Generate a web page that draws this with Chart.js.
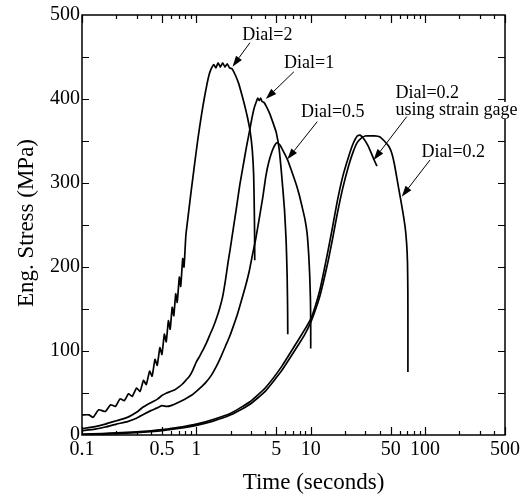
<!DOCTYPE html>
<html><head><meta charset="utf-8">
<script src="https://cdn.jsdelivr.net/npm/chart.js@4"></script>
<style>html,body{margin:0;padding:0;background:#fff}</style>
</head><body>
<canvas id="c" width="523" height="497"></canvas>
<script>
// ---------- tick labels ----------
const xTickLabels = [0.1, 0.5, 1, 5, 10, 50, 100, 500];
const yTickLabels = [0, 100, 200, 300, 400, 500];

// ---------- series (time in s, engineering stress in MPa) ----------
const dial2Time = [0.1,0.115,0.125,0.14,0.16,0.178,0.196,0.215,0.235,0.255,0.275,0.3,0.322,0.345,0.365,0.39,0.41,0.435,0.455,0.48,0.5,0.525,0.545,0.57,0.59,0.615,0.635,0.66,0.68,0.71,0.73,0.76,0.78,0.81,0.85,0.9,0.96,1.03,1.1,1.17,1.24,1.3,1.36,1.42,1.48,1.55,1.62,1.7,1.78,1.86,1.95,2.05,2.2,2.35,2.5,2.65,2.8,2.95,3.08,3.17,3.21,3.23,3.24];
const dial2Stress = [24,24,21,30,28,36,34,43,41,49,46,56,52,65,60,76,70,90,83,104,96,120,111,136,126,152,142,168,158,188,177,210,200,238,262,290,320,352,378,400,418,430,437,441,437,443,438,443,438,442,437,436,428,418,405,392,378,362,340,310,270,240,208];

const dial1Time = [0.1,0.13,0.16,0.2,0.25,0.3,0.34,0.38,0.42,0.46,0.5,0.55,0.6,0.65,0.7,0.76,0.82,0.87,0.93,1.0,1.07,1.15,1.22,1.3,1.4,1.5,1.6,1.7,1.8,1.9,1.97,2.1,2.25,2.4,2.6,2.75,2.9,3.05,3.2,3.35,3.45,3.55,3.65,3.75,3.9,4.1,4.4,4.7,5.0,5.3,5.6,5.9,6.1,6.22,6.28,6.3];
const dial1Stress = [7.5,10,13,17,21,27,33,37,40,43,47,50,52,54,57,61,66,70,77,87,94,102,109,118,128,139,151,165,185,207,220,245,272,298,325,344,360,376,389,397,401,398,401,397,396,391,382,371,360,340,306,268,230,190,150,120];

const dial05Time = [0.1,0.13,0.16,0.2,0.25,0.3,0.35,0.4,0.45,0.5,0.55,0.6,0.7,0.8,0.9,1.0,1.1,1.2,1.35,1.5,1.65,1.8,1.95,2.1,2.3,2.5,2.7,2.9,3.1,3.3,3.55,3.8,4.05,4.3,4.6,4.85,5.1,5.4,5.8,6.3,6.9,7.4,7.9,8.4,8.9,9.3,9.6,9.8,9.95,10.0,10.0];
const dial05Stress = [5,7,9.5,13,16,20,25,29,32,35,34,35,39,43,47,52,57,62,71,82,94,106,117,129,145,162,178,195,215,233,258,282,308,325,338,345,348,345,337,327,312,300,287,272,257,240,215,190,160,130,103];

const dial02GageTime = [0.1,0.15,0.2,0.3,0.4,0.5,0.7,1.0,1.4,2.0,2.9,4.0,5.6,7.86,8.9,10,11,12,13,14.2,15.5,17,19,21.4,23.5,25.5,27,29,31.5,34,36.5,38];
const dial02GageStress = [1,1.8,2.5,3.8,5,6.3,9,13,18.5,26,39,56,82,114,126,138,154,172,194,220,247,277,307,331,347,356,357,353,345,335,325,320];

const dial02Time = [0.1,0.15,0.2,0.3,0.4,0.5,0.7,1.0,1.4,2.0,2.9,4.0,5.6,7.86,8.9,10,11,12,13,14.2,15.5,17,19,21.4,23.5,25.5,28,30,33,36,40,44,48,51,54,57,60.5,64,67,69,70.2,70.7,70.8,70.8];
const dial02Stress = [0.3,1,1.6,2.8,4,5.2,7.8,11.5,16.5,24,36,52,77,108,120,134,149,165,184,207,233,262,293,320,337,348,354,356,356,356,355,350,344,336,322,304,284,265,247,228,205,170,130,75];

// ---------- annotations (positions in data units: time, stress) ----------
const noteText = [["Dial=2"],["Dial=1"],["Dial=0.5"],["Dial=0.2","using strain gage"],["Dial=0.2"]];
const noteAnchor = [[2.52,470.8],[5.85,437],[8.22,378],[55.1,401.2],[92.9,331.3]];
const arrowTail = [[2.94,467],[7.14,432.5],[11.4,373],[69.2,379],[110.5,327.4]];
const arrowTip = [[2.07,438.5],[4.05,400],[6.25,328.2],[35.5,327.4],[62.5,283.7]];

const FONT = "'Liberation Serif','Times New Roman',Times,serif";
const pts = (t, s) => t.map((v, i) => ({x: v, y: s[i]}));
const series = [
  [dial2Time, dial2Stress], [dial1Time, dial1Stress], [dial05Time, dial05Stress],
  [dial02GageTime, dial02GageStress], [dial02Time, dial02Stress]
];

const framePlugin = {
  id: 'frame',
  beforeDraw(chart) {
    const ctx = chart.ctx;
    ctx.save(); ctx.fillStyle = '#fff'; ctx.fillRect(0, 0, chart.width, chart.height); ctx.restore();
  },
  afterDatasetsDraw(chart) {
    const {ctx, chartArea: a, scales: {x, y}} = chart;
    ctx.save();
    ctx.strokeStyle = '#000';
    ctx.lineWidth = 1.5;
    ctx.strokeRect(a.left, a.top, a.right - a.left, a.bottom - a.top);
    ctx.lineWidth = 1.2;
    ctx.beginPath();
    for (let d = -1; d <= 2; d++) {
      for (let m = 1; m <= 9; m++) {
        const v = m * Math.pow(10, d);
        if (v < 0.0999 || v > 500.1) continue;
        const px = Math.round(x.getPixelForValue(v)) + 0.5;
        const len = (m === 1 || m === 5) ? 8 : 4;
        ctx.moveTo(px, a.bottom); ctx.lineTo(px, a.bottom - len);
        ctx.moveTo(px, a.top); ctx.lineTo(px, a.top + len);
      }
    }
    for (let v = 50; v < 500; v += 50) {
      const py = Math.round(y.getPixelForValue(v)) + 0.5;
      ctx.moveTo(a.left, py); ctx.lineTo(a.left + 7, py);
      ctx.moveTo(a.right, py); ctx.lineTo(a.right - 7, py);
    }
    ctx.stroke();

    // annotations
    ctx.font = '18px ' + FONT;
    ctx.textAlign = 'left';
    ctx.textBaseline = 'alphabetic';
    noteText.forEach((lines, i) => {
      const tx = x.getPixelForValue(noteAnchor[i][0]);
      const ty = y.getPixelForValue(noteAnchor[i][1]);
      lines.forEach((s, j) => {
        const w = ctx.measureText(s).width;
        ctx.fillStyle = '#fff';
        ctx.fillRect(tx - 1, ty + j * 17 - 13, w + 2, 17);
      });
      ctx.fillStyle = '#000';
      lines.forEach((s, j) => ctx.fillText(s, tx, ty + j * 17));
      const x0 = x.getPixelForValue(arrowTail[i][0]), y0 = y.getPixelForValue(arrowTail[i][1]);
      const x1 = x.getPixelForValue(arrowTip[i][0]), y1 = y.getPixelForValue(arrowTip[i][1]);
      const ang = Math.atan2(y1 - y0, x1 - x0);
      const hl = 11, hw = 3.6;
      const bx = x1 - hl * Math.cos(ang), by = y1 - hl * Math.sin(ang);
      ctx.lineWidth = 1;
      ctx.beginPath(); ctx.moveTo(x0, y0); ctx.lineTo(bx, by); ctx.stroke();
      ctx.beginPath();
      ctx.moveTo(x1, y1);
      ctx.lineTo(bx + hw * Math.sin(ang), by - hw * Math.cos(ang));
      ctx.lineTo(bx - hw * Math.sin(ang), by + hw * Math.cos(ang));
      ctx.closePath(); ctx.fill();
    });

    // axis titles
    ctx.fillStyle = '#000';
    ctx.font = '23px ' + FONT;
    ctx.textAlign = 'center';
    ctx.textBaseline = 'alphabetic';
    ctx.fillText('Time (seconds)', (a.left + a.right) / 2 + 20, a.bottom + 54);
    ctx.save();
    ctx.translate(a.left - 49, (a.top + a.bottom) / 2 - 2);
    ctx.rotate(-Math.PI / 2);
    ctx.fillText('Eng. Stress (MPa)', 0, 0);
    ctx.restore();
    ctx.restore();
  }
};

new Chart(document.getElementById('c'), {
  type: 'scatter',
  data: {
    datasets: series.map(([t, s]) => ({
      data: pts(t, s), showLine: true, borderColor: '#000', borderWidth: 1.7,
      pointRadius: 0, fill: false, tension: 0.15
    }))
  },
  options: {
    responsive: false, animation: false, devicePixelRatio: 1,
    layout: {padding: {top: 15, right: 16, left: 0, bottom: 0}},
    plugins: {legend: {display: false}, tooltip: {enabled: false}, title: {display: false}},
    scales: {
      x: {
        type: 'logarithmic', min: 0.1, max: 500,
        grid: {display: false, drawTicks: false}, border: {display: false},
        afterBuildTicks(s) { s.ticks = xTickLabels.map(v => ({value: v})); },
        afterFit(s) { s.height = 62; },
        ticks: {autoSkip: false, maxRotation: 0, padding: 3, color: '#000',
          font: {family: FONT, size: 20}, callback: v => String(v)}
      },
      y: {
        min: 0, max: 500,
        grid: {display: false, drawTicks: false}, border: {display: false},
        afterBuildTicks(s) { s.ticks = yTickLabels.map(v => ({value: v})); },
        afterFit(s) { s.width = 82; },
        ticks: {padding: 2, color: '#000', font: {family: FONT, size: 20}}
      }
    }
  },
  plugins: [framePlugin]
});
</script>
</body></html>
